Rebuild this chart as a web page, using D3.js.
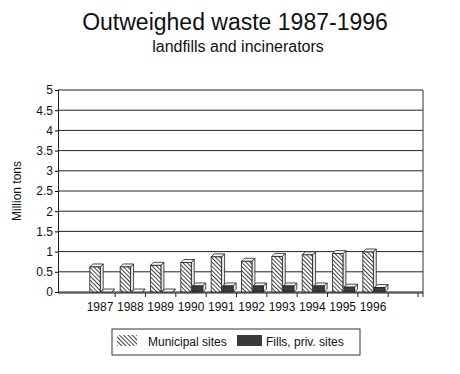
<!DOCTYPE html>
<html lang="en">
<head>
  <meta charset="UTF-8">
  <title>Outweighed waste 1987-1996</title>
  <script src="https://d3js.org/d3.v7.min.js"></script>
  <style>
    body { margin: 0; background: #fff; font-family: 'Liberation Sans', Arial, sans-serif; }
    svg text { fill: #111; }
  </style>
</head>
<body>
  <div id="chart"></div>
  <script>
    const years = ["1987", "1988", "1989", "1990", "1991", "1992", "1993", "1994", "1995", "1996"];
    const municipal = [0.62, 0.62, 0.66, 0.73, 0.87, 0.76, 0.88, 0.92, 0.95, 0.99];
    const fills = [0, 0, 0, 0.15, 0.15, 0.15, 0.15, 0.15, 0.12, 0.11];
    const yTicks = [0, 0.5, 1, 1.5, 2, 2.5, 3, 3.5, 4, 4.5, 5];
    const seriesNames = ["Municipal sites", "Fills, priv. sites"];

    const W = 460, H = 374;
    const plot = { left: 58, right: 423, top: 90, bottom: 292 };

    const svg = d3.select("#chart").append("svg")
      .attr("width", W).attr("height", H);

    // patterns
    const defs = svg.append("defs");
    const hatch = defs.append("pattern")
      .attr("id", "hatch").attr("patternUnits", "userSpaceOnUse")
      .attr("width", 3).attr("height", 3)
      .attr("patternTransform", "rotate(-45)");
    hatch.append("rect").attr("width", 3).attr("height", 3).attr("fill", "#fff");
    hatch.append("line").attr("x1", 0).attr("y1", 0).attr("x2", 0).attr("y2", 3)
      .attr("stroke", "#111").attr("stroke-width", 1.6);

    const colors = { "Municipal sites": "url(#hatch)", "Fills, priv. sites": "#3a3a3a" };

    // title
    svg.append("text").attr("x", 235).attr("y", 30).attr("text-anchor", "middle")
      .style("font-size", "23px").text("Outweighed waste 1987-1996");
    svg.append("text").attr("x", 238).attr("y", 52).attr("text-anchor", "middle")
      .style("font-size", "16px").text("landfills and incinerators");

    const y = d3.scaleLinear().domain([0, 5]).range([plot.bottom, plot.top]);
    const x = d3.scaleBand().domain(years).range([84.8, 388.2]);
    const xs = d3.scaleBand().domain(seriesNames).range([5, 27]).paddingInner(0.1);

    // gridlines
    svg.append("g").selectAll("line").data(yTicks).join("line")
      .attr("x1", plot.left).attr("x2", plot.right)
      .attr("y1", d => y(d)).attr("y2", d => y(d))
      .attr("stroke", "#222").attr("stroke-width", 1);

    // right border
    svg.append("line").attr("x1", plot.right).attr("x2", plot.right)
      .attr("y1", plot.top).attr("y2", plot.bottom + 5)
      .attr("stroke", "#333");

    // y axis
    const yAxis = svg.append("g").attr("transform", `translate(${plot.left},0)`)
      .call(d3.axisLeft(y).tickValues(yTicks).tickSize(3).tickFormat(d => String(d)));
    yAxis.select(".domain").attr("stroke", "#222");
    yAxis.selectAll("text").style("font-size", "12px").attr("dx", "1");

    svg.append("text")
      .attr("transform", `translate(21,${(plot.top + plot.bottom) / 2}) rotate(-90)`)
      .attr("text-anchor", "middle").style("font-size", "12px").text("Million tons");

    // x axis
    const xAxis = svg.append("g").attr("transform", `translate(0,${plot.bottom})`)
      .call(d3.axisBottom(x).tickSize(0).tickPadding(10));
    xAxis.select(".domain").remove();
    xAxis.selectAll("text").style("font-size", "12px");
    svg.append("line").attr("x1", plot.left).attr("x2", plot.right)
      .attr("y1", plot.bottom + 1).attr("y2", plot.bottom + 1).attr("stroke", "#222");
    const bounds = years.slice(1).map(d => x(d)).concat([x.range()[1], plot.right - 5]);
    svg.append("g").selectAll("line").data(bounds).join("line")
      .attr("x1", d => d).attr("x2", d => d)
      .attr("y1", plot.bottom + 1).attr("y2", plot.bottom + 5)
      .attr("stroke", "#222");

    // bars with a small 3D top and side
    const dx = 3, dy = -3;
    const data = [];
    years.forEach((yr, i) => {
      data.push({ year: yr, series: seriesNames[0], value: municipal[i] });
      data.push({ year: yr, series: seriesNames[1], value: fills[i] });
    });

    const bars = svg.append("g").selectAll("g").data(data).join("g");
    bars.each(function(d) {
      const g = d3.select(this);
      const x0 = x(d.year) + xs(d.series), w = xs.bandwidth();
      const yt = y(d.value), yb = y(0);
      g.append("path")
        .attr("d", `M${x0 + w},${yb}L${x0 + w + dx},${yb + dy}L${x0 + w + dx},${yt + dy}L${x0 + w},${yt}Z`)
        .attr("fill", "#e8e8e8").attr("stroke", "#222").attr("stroke-width", 0.8);
      g.append("path")
        .attr("d", `M${x0},${yt}L${x0 + dx},${yt + dy}L${x0 + w + dx},${yt + dy}L${x0 + w},${yt}Z`)
        .attr("fill", "#f4f4f4").attr("stroke", "#222").attr("stroke-width", 0.8);
      g.append("rect")
        .attr("x", x0).attr("y", yt).attr("width", w).attr("height", yb - yt)
        .attr("fill", colors[d.series]).attr("stroke", "#222").attr("stroke-width", 0.8);
    });

    // legend
    const lg = svg.append("g");
    lg.append("rect").attr("x", 112).attr("y", 329).attr("width", 248).attr("height", 26)
      .attr("fill", "#fff").attr("stroke", "#333");
    const items = [
      { name: seriesNames[0], sx: 117, tx: 148 },
      { name: seriesNames[1], sx: 237, tx: 266 }
    ];
    items.forEach(it => {
      lg.append("rect").attr("x", it.sx).attr("y", 335).attr("width", it.name === seriesNames[0] ? 20 : 25)
        .attr("height", 11).attr("fill", colors[it.name]);
      lg.append("text").attr("x", it.tx).attr("y", 345.5).style("font-size", "12px").text(it.name);
    });
  </script>
</body>
</html>
